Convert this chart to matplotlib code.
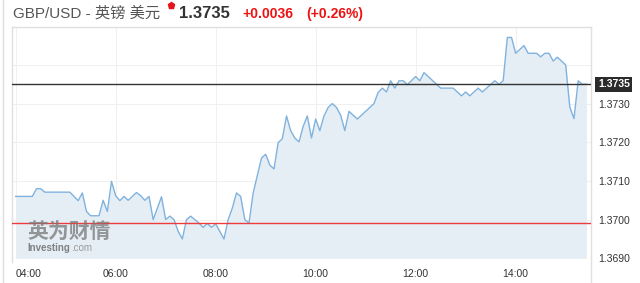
import matplotlib
matplotlib.use("Agg")
from matplotlib import pyplot as plt
from matplotlib.lines import Line2D
import matplotlib.transforms as mtransforms

# GBP/USD intraday, minutes after 04:00 and price (turning points)
minutes = [0, 20, 25, 30, 35, 65, 75, 80, 85, 90, 100, 105, 110, 115, 120, 125, 130, 135,
           145, 150, 155, 160, 165, 175, 180, 185, 190, 195, 200, 205, 210, 220, 225, 230,
           235, 240, 250, 255, 260, 265, 270, 275, 280, 285, 290, 295, 300, 305, 310, 315,
           320, 325, 330, 335, 340, 345, 350, 355, 360, 365, 370, 375, 380, 385, 390, 395,
           400, 410, 430, 435, 440, 445, 450, 455, 460, 465, 470, 480, 485, 490, 510, 525,
           535, 540, 545, 555, 560, 575, 580, 585, 590, 595, 600, 610, 615, 625, 630, 635,
           640, 645, 650, 660, 665, 670, 675, 680, 685]
prices = [1.37060, 1.37060, 1.37080, 1.37080, 1.37071, 1.37071, 1.37049, 1.37069, 1.37021,
          1.37010, 1.37010, 1.37050, 1.37021, 1.37099, 1.37062, 1.37049, 1.37060, 1.37050,
          1.37070, 1.37062, 1.37050, 1.37060, 1.37000, 1.37059, 1.37000, 1.37009, 1.37000,
          1.36970, 1.36950, 1.37000, 1.37009, 1.36991, 1.36980, 1.36990, 1.36980, 1.36989,
          1.36950, 1.37000, 1.37030, 1.37069, 1.37060, 1.37000, 1.36991, 1.37069, 1.37114,
          1.37159, 1.37169, 1.37141, 1.37131, 1.37199, 1.37209, 1.37268, 1.37230, 1.37211,
          1.37201, 1.37241, 1.37268, 1.37211, 1.37260, 1.37230, 1.37268, 1.37290, 1.37300,
          1.37290, 1.37270, 1.37230, 1.37280, 1.37260, 1.37300, 1.37329, 1.37340, 1.37330,
          1.37359, 1.37340, 1.37359, 1.37359, 1.37349, 1.37370, 1.37359, 1.37380, 1.37340,
          1.37340, 1.37320, 1.37330, 1.37320, 1.37340, 1.37330, 1.37359, 1.37350, 1.37359,
          1.37471, 1.37471, 1.37430, 1.37450, 1.37430, 1.37430, 1.37421, 1.37430, 1.37430,
          1.37410, 1.37420, 1.37400, 1.37291, 1.37261, 1.37359, 1.37350, 1.37350]

last_price = 1.3735
prev_close = 1.3699
xtick_pos = [0, 120, 240, 360, 480, 600]
xtick_labels = ["04:00", "06:00", "08:00", "10:00", "12:00", "14:00"]
ytick_pos = [1.3690, 1.3700, 1.3710, 1.3720, 1.3730, 1.3740]
ytick_labels = ["1.3690", "1.3700", "1.3710", "1.3720", "1.3730", ""]

W, H = 640, 283
fig = plt.figure(figsize=(W / 100, H / 100), dpi=100)
ax = fig.add_axes([12 / W, 1 - 258.3 / H, (591 - 12) / W, (258.3 - 27) / H])

ax.fill_between(minutes, prices, 1.3690, color="#e5eef5", lw=0)
ax.plot(minutes, prices, color="#80b2de", lw=1)
ax.axhline(last_price, color="#333333", lw=1, zorder=4)
ax.axhline(prev_close, color="#ee3b3b", lw=1, zorder=4)

ax.set_xlim(-4.4, 690.4)
ax.set_ylim(1.3690, 1.37498)

ax.set_xticks(xtick_pos)
ax.set_xticklabels(xtick_labels)
ax.set_yticks(ytick_pos)
ax.set_yticklabels(ytick_labels)
ax.yaxis.tick_right()
ax.tick_params(axis="both", length=0, labelsize=7.5, labelcolor="#333333",
               labelfontfamily="Liberation Sans")
ax.tick_params(axis="x", pad=8)
ax.tick_params(axis="y", pad=5)
ax.get_xticklabels()[0].set_ha("left")
ax.grid(True, color="#f0f0f0", lw=0.8)
ax.set_axisbelow(True)

for side in ["left", "top", "right"]:
    ax.spines[side].set_color("#e0e0e0")
    ax.spines[side].set_linewidth(1)
ax.spines["bottom"].set_visible(False)

# current price tag on the right
trans = mtransforms.blended_transform_factory(ax.transAxes, ax.transData)
ax.text(1.012, last_price, "1.3735", transform=trans, ha="left", va="center",
        fontsize=7.5, fontweight="bold", color="white", family="Liberation Sans",
        bbox=dict(boxstyle="square,pad=0.25", fc="#2b2b2b", ec="none"))

# page borders
fig.add_artist(Line2D([3 / W, 3 / W], [0, 1], color="#dddddd", lw=1))
fig.add_artist(Line2D([591 / W, 591 / W], [0, 1 - 258 / H], color="#e0e0e0", lw=1))
fig.add_artist(Line2D([12 / W, 12 / W], [1 - 262 / H, 1 - 258 / H], color="#e0e0e0", lw=1))

# header
fam = ["Liberation Sans", "Noto Sans CJK SC"]
fig.text(13 / W, 1 - 13 / H, "GBP/USD - 英镑 美元", fontsize=11, color="#555555",
         family=fam, va="center", ha="left")
fig.add_artist(Line2D([171 / W], [1 - 5 / H], marker="p", markersize=5,
                      color="#e5141b", lw=0))
fig.text(179 / W, 1 - 13.5 / H, "1.3735", fontsize=12, fontweight="bold",
         color="#333333", family="Liberation Sans", va="center", ha="left")
fig.text(242 / W, 1 - 14 / H, "+0.0036", fontsize=10, fontweight="bold",
         color="#ee1111", family="Liberation Sans", va="center", ha="left")
fig.text(306 / W, 1 - 14 / H, "(+0.26%)", fontsize=10, fontweight="bold",
         color="#ee1111", family="Liberation Sans", va="center", ha="left")

# watermark
fig.text(27 / W, 1 - 232 / H, "英为财情", fontsize=15, fontweight="bold",
         color="#777777", alpha=0.75, family=fam, va="center", ha="left")
fig.text(27 / W, 1 - 248 / H, "Investing", fontsize=7, fontweight="bold",
         color="#666666", alpha=0.8, family="Liberation Sans", va="center", ha="left")
fig.text(71 / W, 1 - 248 / H, ".com", fontsize=7,
         color="#888888", alpha=0.8, family="Liberation Sans", va="center", ha="left")

fig.savefig("out.png", dpi=100)
